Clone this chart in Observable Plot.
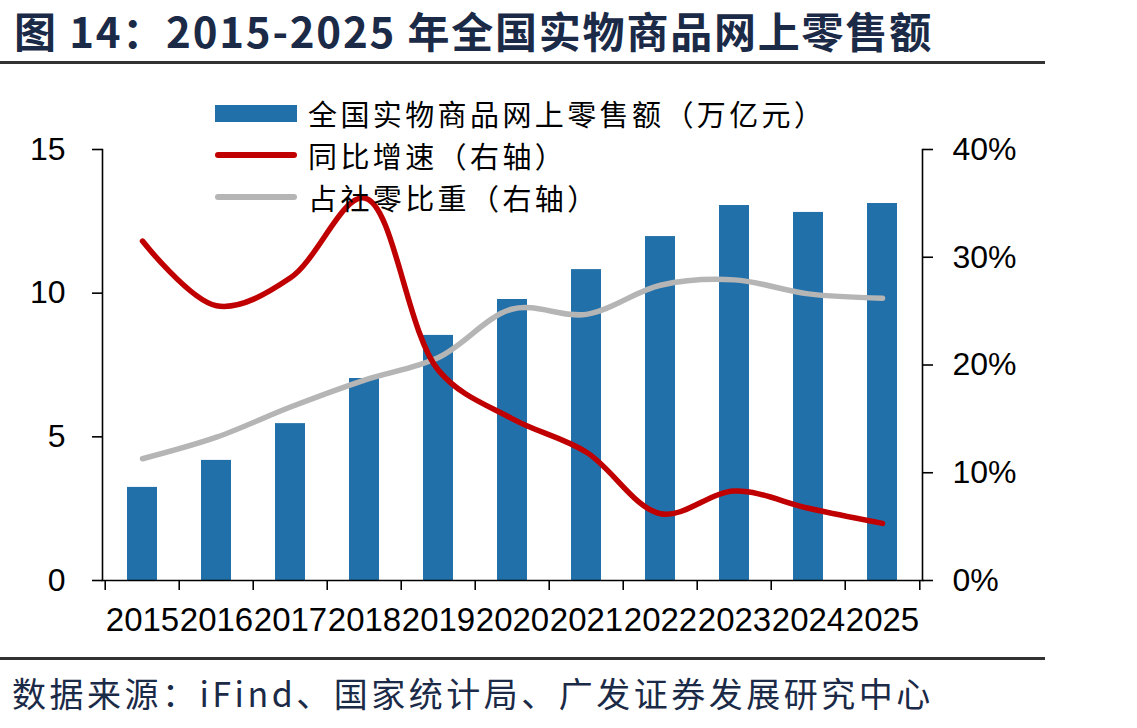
<!DOCTYPE html>
<html>
<head>
<meta charset="utf-8">
<script src="https://cdn.jsdelivr.net/npm/d3@7"></script>
<script src="https://cdn.jsdelivr.net/npm/@observablehq/plot@0.6"></script>
<style>
  html, body { margin: 0; padding: 0; background: #fff; }
  #wrap { position: relative; width: 1137px; height: 728px; overflow: hidden; background: #fff; }
  #title { position: absolute; left: 14px; top: 8px; font-family: "Noto Sans CJK SC", sans-serif; font-weight: 700; font-size: 42px; letter-spacing: 1.8px; color: #1b2a47; white-space: nowrap; line-height: 44px; }
  .rule { position: absolute; left: 0; width: 1045px; height: 3px; background: #333; }
  #source { position: absolute; left: 12px; top: 675px; font-family: "Noto Sans CJK SC", sans-serif; font-size: 34px; color: #1b2a47; white-space: nowrap; line-height: 36px; letter-spacing: 3.5px; }
  #legend { position: absolute; left: 215px; top: 92px; font-family: "Noto Sans CJK SC", sans-serif; font-size: 29px; letter-spacing: 3.4px; color: #000; }
  .row { display: flex; align-items: center; height: 42px; }
  .row span { line-height: 30px; }
  .sw { width: 82px; margin-right: 11px; }
  #chart { position: absolute; left: 0; top: 0; }
</style>
</head>
<body>
<div id="wrap">
  <div id="chart"></div>
  <div id="title">图 14：2015-2025 年全国实物商品网上零售额</div>
  <div class="rule" style="top:61px"></div>
  <div class="rule" style="top:657px"></div>
  <div id="source">数据来源：iFind、国家统计局、广发证券发展研究中心</div>
  <div id="legend"></div>
</div>
<script>
// ---- data ----
const years = ["2015","2016","2017","2018","2019","2020","2021","2022","2023","2024","2025"];
const sales = [3.24, 4.18, 5.46, 7.03, 8.53, 9.78, 10.82, 11.97, 13.05, 12.81, 13.12]; // 万亿元
const growth = [31.5, 25.5, 28.1, 35.5, 19.5, 15.0, 11.9, 6.2, 8.3, 6.7, 5.3];       // %
const share = [11.3, 13.3, 16.1, 18.6, 20.7, 25.2, 24.7, 27.4, 27.9, 26.6, 26.2];     // %
const leftTicks = [0, 5, 10, 15];
const rightTicks = [0, 10, 20, 30, 40];
const seriesNames = ["全国实物商品网上零售额（万亿元）", "同比增速（右轴）", "占社零比重（右轴）"];
const colors = ["#2270a9", "#c00000", "#b5b5b5"];

// ---- layout ----
const W = 1137, H = 660;
const mL = 102, mR = 215, mT = 149, mB = 80;
const step = (W - mL - mR) / years.length;
const leftMax = leftTicks[leftTicks.length - 1];
const rightMax = rightTicks[rightTicks.length - 1];
const ratio = leftMax / rightMax; // right axis (%) -> left scale units

const rows = years.map((y, i) => ({year: y, sales: sales[i], growth: growth[i], share: share[i]}));

const chart = Plot.plot({
  width: W, height: H,
  marginLeft: mL, marginRight: mR, marginTop: mT, marginBottom: mB,
  style: {fontFamily: "'Liberation Sans', Arial, sans-serif", fontSize: "32px", color: "#000", background: "transparent"},
  x: {type: "band", domain: years, paddingInner: 0.6, paddingOuter: 0.3, axis: null},
  y: {domain: [0, leftMax], axis: null},
  marks: [
    Plot.barY(rows, {x: "year", y: "sales", fill: colors[0]}),
    Plot.lineY(rows, {x: "year", y: d => d.share * ratio, stroke: colors[2], strokeWidth: 5.5, curve: "catmull-rom", strokeLinecap: "round"}),
    Plot.lineY(rows, {x: "year", y: d => d.growth * ratio, stroke: colors[1], strokeWidth: 5.5, curve: "catmull-rom", strokeLinecap: "round"}),
    Plot.frame({anchor: "left", stroke: "#000", strokeWidth: 1.6}),
    Plot.frame({anchor: "right", stroke: "#000", strokeWidth: 1.6}),
    Plot.frame({anchor: "bottom", stroke: "#000", strokeWidth: 1.6}),
    Plot.axisY({anchor: "left", ticks: leftTicks, tickSize: 10, tickPadding: 27, strokeWidth: 1.6, label: null}),
    Plot.axisY({anchor: "right", ticks: rightTicks.map(t => t * ratio), tickFormat: d => Math.round(d / ratio) + "%", tickSize: 10, tickPadding: 20, strokeWidth: 1.6, label: null}),
    Plot.axisX({anchor: "bottom", tickSize: 0, tickPadding: 27, fontSize: 33, label: null}),
    Plot.axisX({anchor: "bottom", tickSize: 10, tickFormat: () => "", dx: -step / 2, strokeWidth: 1.6, label: null}),
    Plot.axisX({anchor: "bottom", ticks: [years[years.length - 1]], tickSize: 10, tickFormat: () => "", dx: step / 2, strokeWidth: 1.6, label: null})
  ]
});
document.getElementById("chart").appendChild(chart);

// ---- legend ----
const legend = document.getElementById("legend");
seriesNames.forEach((name, i) => {
  const row = document.createElement("div");
  row.className = "row";
  const sw = document.createElement("div");
  sw.className = "sw";
  if (i === 0) { sw.style.height = "17px"; sw.style.background = colors[0]; }
  else { sw.style.height = "6px"; sw.style.borderRadius = "3px"; sw.style.background = colors[i]; }
  const tx = document.createElement("span");
  tx.textContent = name;
  row.appendChild(sw); row.appendChild(tx);
  legend.appendChild(row);
});
</script>
</body>
</html>
